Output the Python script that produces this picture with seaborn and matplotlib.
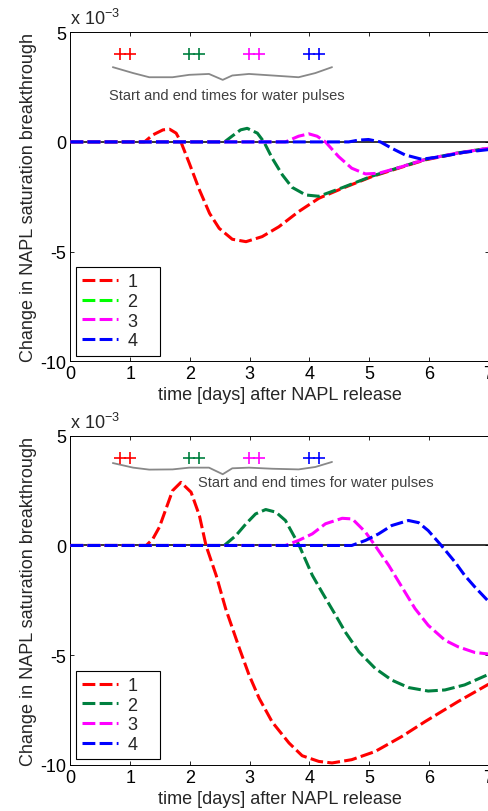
import matplotlib
matplotlib.use("Agg")
import matplotlib.pyplot as plt
import seaborn as sns

# Values are in units of 1e-3 (the axis shows "x 10^-3")

# top panel
top_red_t = [0, 1.24, 1.38, 1.55, 1.66, 1.77, 1.85, 1.99, 2.16, 2.33, 2.49, 2.71, 2.94, 3.21, 3.49, 3.82, 4.16, 4.55, 5.05, 5.49, 5.94, 6.49, 7.0]
top_red_v = [0, 0, 0.32, 0.55, 0.58, 0.40, 0, -0.97, -2.19, -3.26, -3.94, -4.44, -4.55, -4.32, -3.87, -3.18, -2.57, -2.12, -1.58, -1.20, -0.82, -0.52, -0.30]
top_grn_t = [0, 2.58, 2.71, 2.85, 2.96, 3.13, 3.24, 3.38, 3.55, 3.71, 3.94, 4.16, 4.55, 5.05, 5.49, 5.94, 6.49, 7.0]
top_grn_v = [0, 0, 0.27, 0.55, 0.62, 0.40, 0, -0.75, -1.51, -2.07, -2.42, -2.48, -2.09, -1.56, -1.18, -0.80, -0.50, -0.29]
top_mag_t = [0, 3.60, 3.82, 3.99, 4.13, 4.27, 4.49, 4.71, 4.94, 5.16, 5.49, 5.94, 6.49, 7.0]
top_mag_v = [0, 0, 0.26, 0.37, 0.26, 0, -0.67, -1.20, -1.46, -1.43, -1.18, -0.80, -0.50, -0.29]
top_blu_t = [0, 4.66, 4.82, 4.99, 5.19, 5.38, 5.60, 5.88, 6.21, 6.60, 7.0]
top_blu_v = [0, 0, 0.08, 0.11, 0, -0.29, -0.59, -0.79, -0.67, -0.47, -0.35]

# bottom panel
bot_red_t = [0, 1.27, 1.38, 1.49, 1.60, 1.71, 1.85, 2.02, 2.16, 2.27, 2.44, 2.60, 2.83, 2.99, 3.16, 3.38, 3.66, 3.88, 4.16, 4.38, 4.71, 5.10, 5.55, 5.94, 6.49, 7.0]
bot_red_v = [0, 0, 0.30, 0.84, 1.67, 2.50, 2.88, 2.43, 1.36, 0, -1.36, -2.89, -4.70, -5.90, -6.97, -8.06, -9.01, -9.59, -9.85, -9.92, -9.77, -9.40, -8.71, -8.03, -7.12, -6.33]
bot_grn_t = [0, 2.575, 2.77, 2.94, 3.10, 3.27, 3.44, 3.60, 3.83, 4.05, 4.21, 4.44, 4.60, 4.83, 5.10, 5.38, 5.66, 5.99, 6.27, 6.60, 7.0]
bot_grn_v = [0, 0, 0.45, 0.99, 1.44, 1.64, 1.52, 1.14, 0, -1.36, -2.12, -3.18, -3.94, -4.85, -5.60, -6.14, -6.48, -6.64, -6.59, -6.36, -5.88]
bot_mag_t = [0, 3.60, 3.82, 4.05, 4.27, 4.55, 4.72, 4.94, 5.10, 5.33, 5.60, 5.77, 5.99, 6.27, 6.49, 6.77, 7.0]
bot_mag_v = [0, 0, 0.23, 0.53, 0.99, 1.24, 1.21, 0.61, 0, -0.91, -2.12, -2.88, -3.64, -4.32, -4.62, -4.88, -4.95]
bot_blu_t = [0, 4.71, 4.94, 5.16, 5.38, 5.66, 5.83, 5.99, 6.21, 6.44, 6.60, 6.77, 7.0]
bot_blu_v = [0, 0, 0.23, 0.53, 0.91, 1.14, 1.04, 0.68, 0, -0.76, -1.36, -1.89, -2.55]

# water pulses (start / end, days)
pulse_start = [0.83, 1.99, 2.99, 3.99]
pulse_end = [1.00, 2.16, 3.16, 4.16]
pulse_level = 4.0

# curly brace under the pulse marks
brace_t = [0.71, 1.05, 1.32, 1.71, 1.99, 2.32, 2.55, 2.71, 2.99, 3.38, 3.82, 4.10, 4.38]
brace_top_v = [3.41, 3.14, 2.95, 2.95, 3.06, 3.10, 2.83, 3.03, 3.10, 3.03, 2.95, 3.14, 3.41]
brace_bot_v = [3.76, 3.55, 3.46, 3.47, 3.55, 3.55, 3.25, 3.52, 3.55, 3.50, 3.47, 3.58, 3.81]

labels = ['1', '2', '3', '4']
colors = ['#ff0000', '#00803f', '#ff00ff', '#0000ff']

sns.set_style('ticks')
plt.rcParams['font.family'] = ['Liberation Sans', 'DejaVu Sans']
plt.rcParams['mathtext.fontset'] = 'custom'
plt.rcParams['mathtext.rm'] = 'Liberation Sans'
plt.rcParams['axes.unicode_minus'] = False

fig = plt.figure(figsize=(4.89, 8.12), dpi=100)
ax1 = fig.add_axes([0.144, 0.554, 0.855, 0.405])
ax2 = fig.add_axes([0.144, 0.057, 0.855, 0.405])

panels = [
    (ax1, [(top_red_t, top_red_v), (top_grn_t, top_grn_v), (top_mag_t, top_mag_v), (top_blu_t, top_blu_v)],
     brace_top_v, (0.65, 2.15)),
    (ax2, [(bot_red_t, bot_red_v), (bot_grn_t, bot_grn_v), (bot_mag_t, bot_mag_v), (bot_blu_t, bot_blu_v)],
     brace_bot_v, (2.13, 2.9)),
]

for ax, curves, brace_v, txt in panels:
    ax.axhline(0, color='black', lw=1.1, zorder=1)
    for (t, v), c, lab in zip(curves, colors, labels):
        sns.lineplot(x=t, y=v, ax=ax, color=c, lw=2.2, ls=(0, (4.2, 1.4)),
                     sort=False, estimator=None, label=lab, zorder=3)
    # pulse markers
    for s, e, c in zip(pulse_start, pulse_end, colors):
        sns.scatterplot(x=[s, e], y=[pulse_level] * 2, ax=ax, marker='+', s=75,
                        color=c, linewidth=1.2, zorder=4, legend=False)
    sns.lineplot(x=brace_t, y=brace_v, ax=ax, color='#888888', lw=1.3,
                 sort=False, estimator=None, zorder=2, legend=False)
    ax.text(txt[0], txt[1], 'Start and end times for water pulses', fontsize=10.5,
            color='#404040', va='center', ha='left')

    ax.set_xlim(0, 7)
    ax.set_ylim(-10, 5)
    ax.set_xticks(range(8))
    ax.set_yticks([-10, -5, 0, 5])
    ax.tick_params(direction='in', top=True, right=True, length=3, width=0.6,
                   labelsize=13, pad=3, colors='black')
    for sp in ax.spines.values():
        sp.set_color('black')
        sp.set_linewidth(0.7)
    ax.set_xlabel('time [days] after NAPL release', fontsize=13, labelpad=3)
    ax.set_ylabel('Change in NAPL saturation breakthrough', fontsize=13, labelpad=2)
    ax.text(0.0, 1.012, 'x 10$^{\\mathregular{-3}}$', transform=ax.transAxes,
            fontsize=13, ha='left', va='bottom')

    leg = ax.legend(loc='lower left', fontsize=13, handlelength=2.0, labelspacing=0.15,
                    borderpad=0.35, handletextpad=0.55, borderaxespad=0.3,
                    fancybox=False, framealpha=1, edgecolor='black')
    leg.get_frame().set_linewidth(0.8)
    for t in leg.get_texts():
        t.set_text(t.get_text() + '   ')

# the top legend shows entry 2 in bright green
ax1.get_legend().legend_handles[1].set_color('#00ff00')

fig.savefig('out.png', dpi=100)
